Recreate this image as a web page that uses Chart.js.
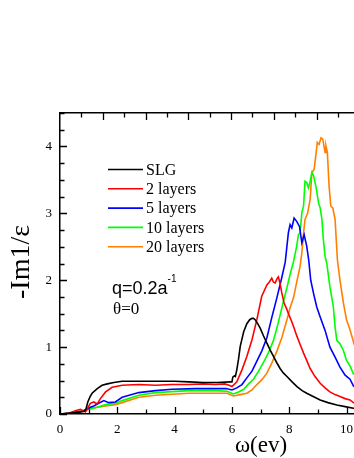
<!DOCTYPE html>
<html>
<head>
<meta charset="utf-8">
<script src="https://cdn.jsdelivr.net/npm/chart.js@4.4.1/dist/chart.umd.min.js"></script>
<style>
  html, body { margin: 0; padding: 0; background: #fff; overflow: hidden; }
  #chart { display: block; }
</style>
</head>
<body>
<canvas id="chart" width="354" height="458"></canvas>
<script>
/* ---------- data ---------- */
const seriesLabels = ['SLG', '2 layers', '5 layers', '10 layers', '20 layers'];
const seriesColors = ['#000000', '#ff0000', '#0000ff', '#00ff00', '#ff8000'];

const slgX = [0, 0.3, 0.6, 0.85, 0.91, 0.97, 1.05, 1.12, 1.3, 1.47, 1.65, 1.88, 2.17, 2.5, 3.0, 3.5, 4.0, 4.5, 5.0, 5.5, 5.95, 6.0, 6.03, 6.08, 6.12, 6.17, 6.23, 6.29, 6.41, 6.52, 6.62, 6.7, 6.75, 6.81, 6.9, 6.99, 7.1, 7.22, 7.33, 7.45, 7.56, 7.68, 7.8, 7.92, 8.1, 8.27, 8.45, 8.61, 8.8, 9.08, 9.35, 9.66, 9.95, 10.24, 10.3];
const slgY = [0, 0.01, 0.02, 0.04, 0.08, 0.18, 0.26, 0.31, 0.38, 0.43, 0.45, 0.47, 0.49, 0.49, 0.49, 0.49, 0.49, 0.48, 0.47, 0.47, 0.48, 0.48, 0.55, 0.57, 0.56, 0.66, 0.82, 1.01, 1.23, 1.35, 1.41, 1.43, 1.43, 1.41, 1.35, 1.28, 1.17, 1.06, 0.96, 0.86, 0.77, 0.68, 0.61, 0.56, 0.48, 0.41, 0.35, 0.31, 0.27, 0.21, 0.17, 0.135, 0.11, 0.085, 0.08];

const redX = [0, 0.3, 0.54, 0.71, 0.89, 1.06, 1.18, 1.3, 1.41, 1.59, 1.82, 2.17, 2.75, 3.33, 3.9, 4.49, 5.0, 5.42, 5.75, 5.9, 6.0, 6.17, 6.35, 6.52, 6.7, 6.87, 7.04, 7.22, 7.3, 7.39, 7.45, 7.51, 7.57, 7.62, 7.68, 7.74, 7.82, 7.92, 8.0, 8.09, 8.18, 8.27, 8.38, 8.5, 8.62, 8.73, 8.9, 9.08, 9.25, 9.42, 9.6, 9.77, 9.95, 10.12, 10.24, 10.3];
const redY = [0, 0.01, 0.05, 0.07, 0.03, 0.16, 0.18, 0.15, 0.23, 0.33, 0.4, 0.43, 0.44, 0.43, 0.44, 0.44, 0.45, 0.44, 0.45, 0.43, 0.41, 0.48, 0.66, 0.86, 1.11, 1.41, 1.76, 1.93, 1.97, 2.03, 1.97, 1.96, 2.02, 2.05, 1.95, 1.81, 1.66, 1.56, 1.47, 1.38, 1.27, 1.16, 1.04, 0.91, 0.79, 0.68, 0.56, 0.46, 0.39, 0.33, 0.29, 0.26, 0.23, 0.21, 0.17, 0.16];

const blueX = [0, 0.3, 0.55, 0.75, 0.9, 1.06, 1.18, 1.35, 1.53, 1.7, 1.93, 2.17, 2.75, 3.33, 3.91, 4.72, 5.65, 5.8, 6.0, 6.17, 6.35, 6.52, 6.7, 6.87, 7.04, 7.22, 7.39, 7.57, 7.74, 7.86, 7.97, 8.03, 8.09, 8.17, 8.26, 8.36, 8.44, 8.52, 8.61, 8.68, 8.75, 8.85, 8.96, 9.08, 9.25, 9.42, 9.6, 9.77, 9.95, 10.12, 10.24, 10.3];
const blueY = [0, 0.01, 0.03, 0.04, 0.06, 0.1, 0.12, 0.16, 0.2, 0.17, 0.18, 0.25, 0.32, 0.35, 0.37, 0.38, 0.38, 0.38, 0.36, 0.39, 0.44, 0.54, 0.64, 0.79, 0.94, 1.14, 1.44, 1.74, 2.04, 2.27, 2.71, 2.83, 2.78, 2.93, 2.88, 2.8, 2.56, 2.68, 2.51, 2.3, 2.0, 1.8, 1.6, 1.45, 1.25, 1.0, 0.85, 0.7, 0.58, 0.52, 0.42, 0.4];

const greenX = [0, 0.3, 0.55, 0.75, 0.9, 1.06, 1.3, 1.59, 1.93, 2.17, 2.75, 3.33, 4.49, 5.42, 5.83, 6.05, 6.23, 6.41, 6.58, 6.75, 6.93, 7.1, 7.28, 7.45, 7.62, 7.8, 7.92, 8.03, 8.15, 8.26, 8.32, 8.38, 8.44, 8.5, 8.55, 8.61, 8.67, 8.73, 8.79, 8.85, 8.94, 9.02, 9.08, 9.14, 9.19, 9.25, 9.31, 9.42, 9.54, 9.6, 9.66, 9.77, 9.89, 10.0, 10.12, 10.24, 10.3];
const greenY = [0, 0.01, 0.03, 0.04, 0.06, 0.08, 0.1, 0.14, 0.16, 0.2, 0.28, 0.32, 0.35, 0.35, 0.34, 0.3, 0.33, 0.37, 0.45, 0.52, 0.64, 0.77, 0.92, 1.1, 1.37, 1.69, 1.89, 2.09, 2.28, 2.51, 2.68, 2.71, 3.01, 3.11, 3.48, 3.46, 3.38, 3.48, 3.61, 3.56, 3.38, 3.16, 3.08, 2.91, 2.61, 2.36, 2.25, 1.9, 1.6, 1.3, 1.1, 1.05, 0.95, 0.8, 0.72, 0.6, 0.6];

const orangeX = [0, 0.3, 0.55, 0.75, 0.9, 1.06, 1.3, 1.59, 1.93, 2.17, 2.75, 3.33, 4.49, 5.42, 5.83, 6.05, 6.29, 6.52, 6.7, 6.87, 7.04, 7.22, 7.39, 7.57, 7.74, 7.92, 8.03, 8.15, 8.27, 8.38, 8.44, 8.5, 8.55, 8.64, 8.73, 8.79, 8.87, 8.94, 8.98, 9.04, 9.11, 9.17, 9.25, 9.28, 9.33, 9.39, 9.45, 9.52, 9.6, 9.68, 9.77, 9.89, 10.0, 10.12, 10.24, 10.3];
const orangeY = [0, 0.01, 0.03, 0.04, 0.06, 0.08, 0.1, 0.12, 0.14, 0.17, 0.25, 0.28, 0.31, 0.31, 0.31, 0.27, 0.29, 0.31, 0.36, 0.44, 0.51, 0.61, 0.76, 0.94, 1.14, 1.41, 1.59, 1.74, 1.99, 2.21, 2.41, 2.71, 2.91, 3.0, 3.21, 3.61, 3.66, 3.91, 4.06, 4.03, 4.13, 4.11, 3.91, 4.01, 3.91, 3.41, 3.11, 3.08, 2.91, 2.31, 2.0, 1.66, 1.41, 1.26, 1.08, 1.0];

const xRange = [0, 10.26];
const yRange = [0, 4.5];
const topRange = [0, 13.75];

/* ---------- helpers ---------- */
const serif = 'Liberation Serif';
const sans = 'Liberation Sans';

function toPoints(xs, ys) {
  return xs.map((x, i) => ({ x, y: ys[i] }));
}

function ticksBetween(min, max, step) {
  const out = [];
  for (let v = min; v <= max + 1e-9; v += step) out.push(+v.toFixed(4));
  return out;
}

// inward ticks on left, bottom and top, plus the texts of the frame
const framePlugin = {
  id: 'frame',
  afterDatasetsDraw(chart) {
    const { ctx, chartArea: a, scales } = chart;
    ctx.save();
    ctx.strokeStyle = '#000';
    ctx.lineWidth = 1.3;
    ctx.beginPath();
    ticksBetween(0, yRange[1], 0.25).forEach(v => {
      const y = Math.round(scales.y.getPixelForValue(v)) + 0.5;
      const len = Number.isInteger(v) ? 7 : 4.5;
      ctx.moveTo(a.left, y); ctx.lineTo(a.left + len, y);
    });
    ticksBetween(0, xRange[1], 1).forEach(v => {
      const x = Math.round(scales.x.getPixelForValue(v)) + 0.5;
      const len = v % 2 === 0 ? 7 : 4.5;
      ctx.moveTo(x, a.bottom); ctx.lineTo(x, a.bottom - len);
    });
    ticksBetween(1, topRange[1], 1).forEach(v => {
      const x = Math.round(scales.x2.getPixelForValue(v)) + 0.5;
      const len = v % 2 === 0 ? 7 : 4.5;
      ctx.moveTo(x, a.top); ctx.lineTo(x, a.top + len);
    });
    ctx.stroke();

    // legend
    chart.data.datasets.forEach((ds, i) => {
      const y = 169.5 + i * 19.3;
      ctx.strokeStyle = ds.borderColor;
      ctx.lineWidth = 1.6;
      ctx.beginPath();
      ctx.moveTo(108, y); ctx.lineTo(143, y);
      ctx.stroke();
      ctx.fillStyle = '#000';
      ctx.font = `16px "${serif}"`;
      ctx.textBaseline = 'middle';
      ctx.fillText(ds.label, 146, y + 1);
    });

    // q and theta
    ctx.textBaseline = 'alphabetic';
    ctx.font = `18px "${sans}"`;
    ctx.fillText('q=0.2a', 112, 294);
    const qw = ctx.measureText('q=0.2a').width;
    ctx.font = `10px "${sans}"`;
    ctx.fillText('-1', 112 + qw, 282);
    ctx.font = `17px "${serif}"`;
    ctx.fillText('\u03b8=0', 113, 314);

    // axis titles
    ctx.font = `23px "${serif}"`;
    ctx.textAlign = 'center';
    ctx.fillText('\u03c9(ev)', 261, 452);
    ctx.translate(29, 262);
    ctx.rotate(-Math.PI / 2);
    ctx.font = `28px "${serif}"`;
    ctx.fillText('-Im1/\u03b5', 0, 0);
    ctx.restore();
  }
};

/* ---------- main ---------- */
const allX = [slgX, redX, blueX, greenX, orangeX];
const allY = [slgY, redY, blueY, greenY, orangeY];

const datasets = seriesLabels.map((label, i) => ({
  label,
  data: toPoints(allX[i], allY[i]),
  borderColor: seriesColors[i],
  backgroundColor: seriesColors[i],
  borderWidth: 1.6,
  pointRadius: 0,
  tension: 0,
  fill: false
}));

const tickFont = { family: serif, size: 13 };

// the plot runs off the right edge of the picture, so no room is kept for the last label
function noSidePadding(scale) {
  scale.paddingLeft = 0;
  scale.paddingRight = 0;
}

new Chart(document.getElementById('chart'), {
  type: 'line',
  data: { datasets },
  options: {
    responsive: false,
    animation: false,
    devicePixelRatio: 1,
    layout: { padding: 0 },
    plugins: { legend: { display: false }, tooltip: { enabled: false } },
    scales: {
      x: {
        type: 'linear',
        position: 'bottom',
        min: xRange[0], max: xRange[1],
        grid: { display: false, drawTicks: false },
        border: { display: true, color: '#000', width: 1.5 },
        ticks: {
          stepSize: 2, includeBounds: false, autoSkip: false, maxRotation: 0,
          padding: 8, color: '#000', font: tickFont
        },
        afterFit(scale) { scale.height = 44; noSidePadding(scale); }
      },
      x2: {
        type: 'linear',
        position: 'top',
        min: topRange[0], max: topRange[1],
        grid: { display: false, drawTicks: false },
        border: { display: true, color: '#000', width: 1.5 },
        ticks: { display: false },
        afterFit(scale) { scale.height = 113; noSidePadding(scale); }
      },
      y: {
        min: yRange[0], max: yRange[1],
        grid: { display: false, drawTicks: false },
        border: { display: true, color: '#000', width: 1.5 },
        ticks: {
          stepSize: 1, includeBounds: false,
          padding: 8, color: '#000', font: tickFont
        },
        afterFit(scale) { scale.width = 60; }
      }
    }
  },
  plugins: [framePlugin]
});
</script>
</body>
</html>
